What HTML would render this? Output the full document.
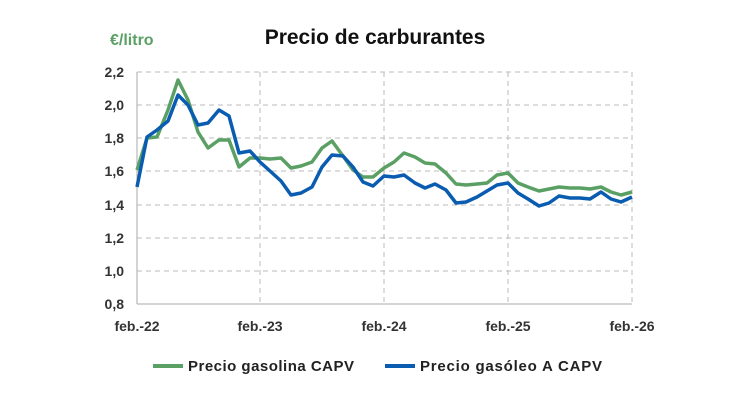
<!DOCTYPE html>
<html><head><meta charset="utf-8"><style>body{margin:0;background:#fff}svg{display:block}text{font-family:"Liberation Sans",sans-serif}</style></head><body>
<svg width="750" height="400" viewBox="0 0 750 400">
<text x="110" y="45" font-size="16" font-weight="bold" fill="#5aa064">€/litro</text>
<text x="375" y="44" font-size="21" font-weight="bold" fill="#111" text-anchor="middle">Precio de carburantes</text>
<g stroke="#bbb" stroke-dasharray="5,4" stroke-width="1">
<line x1="137" x2="632" y1="72" y2="72"/><line x1="137" x2="632" y1="105" y2="105"/><line x1="137" x2="632" y1="138" y2="138"/><line x1="137" x2="632" y1="171" y2="171"/><line x1="137" x2="632" y1="205" y2="205"/><line x1="137" x2="632" y1="238" y2="238"/><line x1="137" x2="632" y1="271" y2="271"/>
<line x1="260" x2="260" y1="72" y2="304"/><line x1="384" x2="384" y1="72" y2="304"/><line x1="508" x2="508" y1="72" y2="304"/><line x1="632" x2="632" y1="72" y2="304"/>
</g>
<line x1="137" x2="137" y1="72" y2="304" stroke="#aaa"/>
<line x1="137" x2="632" y1="304" y2="304" stroke="#aaa"/>
<g font-size="14" font-weight="bold" fill="#333" text-anchor="end">
<text x="124" y="77">2,2</text><text x="124" y="110">2,0</text><text x="124" y="143">1,8</text><text x="124" y="176">1,6</text><text x="124" y="210">1,4</text><text x="124" y="243">1,2</text><text x="124" y="276">1,0</text><text x="124" y="309">0,8</text>
</g>
<g font-size="14" font-weight="bold" fill="#333" text-anchor="middle">
<text x="137" y="331">feb.-22</text><text x="260" y="331">feb.-23</text><text x="384" y="331">feb.-24</text><text x="508" y="331">feb.-25</text><text x="632" y="331">feb.-26</text>
</g>
<polyline fill="none" stroke="#5aa064" stroke-width="3.5" stroke-linejoin="round" points="137,170 147,138 157,137 168,110 178,80 188,100 198,132 208,148 219,140 229,140 239,167 250,158 260,158 270,159 281,158 291,168 301,166 312,162 322,148 332,141 343,156 353,170 363,177 373,177 384,168 394,162 404,153 415,157 425,163 435,164 446,173 456,184 466,185 477,184 487,183 497,175 508,173 518,183 528,187 539,191 549,189 559,187 570,188 580,188 590,189 601,187 611,192 621,195 632,192"/>
<polyline fill="none" stroke="#0a5cb0" stroke-width="3.5" stroke-linejoin="round" points="137,187 147,137 157,130 168,121 178,95 188,105 198,125 208,123 219,110 229,116 239,153 250,151 260,162 270,171 281,181 291,195 301,193 312,187 322,167 332,155 343,156 353,167 363,182 373,186 384,176 394,177 404,175 415,183 425,188 435,184 446,190 456,203 466,202 477,197 487,191 497,185 508,183 518,193 528,199 539,206 549,203 559,196 570,198 580,198 590,199 601,192 611,199 621,202 632,197"/>
<line x1="153" x2="183" y1="366" y2="366" stroke="#5aa064" stroke-width="4"/>
<text x="188" y="371" font-size="15" font-weight="bold" fill="#222" textLength="166">Precio gasolina CAPV</text>
<line x1="385" x2="415" y1="366" y2="366" stroke="#0a5cb0" stroke-width="4"/>
<text x="420" y="371" font-size="15" font-weight="bold" fill="#222" textLength="182">Precio gasóleo A CAPV</text>
</svg>
</body></html>
